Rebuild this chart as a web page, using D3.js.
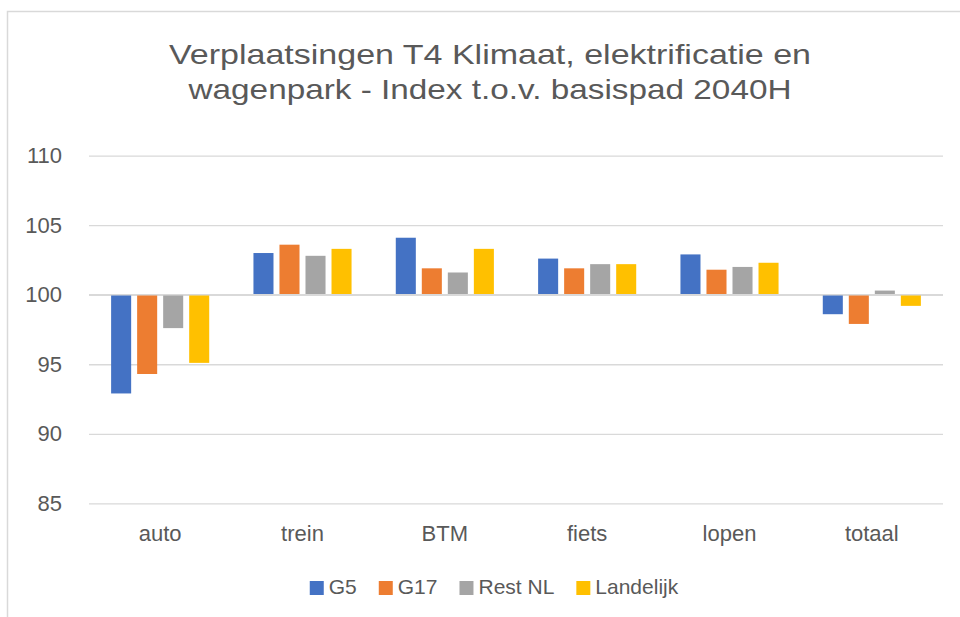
<html>
  <script src="https://d3js.org/d3.v7.min.js"></script>
  <style>
    body,
    html {
      margin: 0;
      padding: 0;
      background: white;
    }
    text {
      font-family: "Liberation Sans", Arial, sans-serif;
      fill: #595959;
    }
  </style>
  <body>
    <svg id="chart" width="960" height="617"></svg>
    <script>
      const titleLines = [
        "Verplaatsingen T4 Klimaat, elektrificatie en",
        "wagenpark - Index t.o.v. basispad 2040H",
      ];
      const categories = ["auto", "trein", "BTM", "fiets", "lopen", "totaal"];
      const seriesNames = ["G5", "G17", "Rest NL", "Landelijk"];
      const g5 = [92.9, 103.0, 104.1, 102.6, 102.9, 98.6];
      const g17 = [94.3, 103.6, 101.9, 101.9, 101.8, 97.9];
      const restNL = [97.6, 102.8, 101.6, 102.2, 102.0, 100.3];
      const landelijk = [95.1, 103.3, 103.3, 102.2, 102.3, 99.2];
      const yTicks = [85, 90, 95, 100, 105, 110];
      const colors = ["#4472C4", "#ED7D31", "#A5A5A5", "#FFC000"];

      const seriesValues = [g5, g17, restNL, landelijk];
      const baseline = 100;

      const svg = d3.select("#chart");

      // chart frame (right edge is cut off in the picture)
      svg
        .append("path")
        .attr("d", "M7.5,617 V11.5 H960")
        .attr("fill", "none")
        .attr("stroke", "#D9D9D9")
        .attr("stroke-width", 1.5);

      // title
      const titleWidths = [642, 603];
      svg
        .selectAll(".title")
        .data(titleLines)
        .enter()
        .append("text")
        .attr("class", "title")
        .attr("x", 490)
        .attr("y", (d, i) => 64 + i * 35)
        .attr("text-anchor", "middle")
        .attr("textLength", (d, i) => titleWidths[i])
        .attr("lengthAdjust", "spacingAndGlyphs")
        .style("font-size", "28px")
        .text((d) => d);

      const x0 = d3.scaleBand().domain(categories).range([89, 943]);
      const x1 = d3
        .scaleBand()
        .domain(seriesNames)
        .range([0, x0.bandwidth()])
        .paddingInner(0.23)
        .paddingOuter(0.85);
      const y = d3.scaleLinear().domain([85, 110]).range([503.3, 155.7]);

      // gridlines + y labels
      const yAxis = svg
        .append("g")
        .attr("transform", "translate(89,0)")
        .call(
          d3
            .axisLeft(y)
            .tickValues(yTicks)
            .tickSize(-(943 - 89))
            .tickPadding(27)
        );
      yAxis.select(".domain").remove();
      yAxis
        .selectAll("line")
        .attr("stroke", "#D9D9D9")
        .attr("stroke-width", 1.3);
      yAxis
        .selectAll("text")
        .attr("fill", "#595959")
        .style("font-size", "22px")
        .style("font-family", "'Liberation Sans', Arial, sans-serif");

      // bars
      const groups = svg
        .append("g")
        .selectAll("g")
        .data(categories)
        .enter()
        .append("g")
        .attr("transform", (d) => `translate(${x0(d)},0)`);

      groups
        .selectAll("rect")
        .data((d, ci) =>
          seriesNames.map((s, si) => ({
            series: s,
            value: seriesValues[si][ci],
            color: colors[si],
          }))
        )
        .enter()
        .append("rect")
        .attr("x", (d) => x1(d.series))
        .attr("width", x1.bandwidth())
        .attr("y", (d) => y(Math.max(d.value, baseline)))
        .attr("height", (d) => Math.abs(y(d.value) - y(baseline)))
        .attr("fill", (d) => d.color);

      // category axis line at 100
      svg
        .append("line")
        .attr("x1", 89)
        .attr("x2", 943)
        .attr("y1", y(baseline))
        .attr("y2", y(baseline))
        .attr("stroke", "#D9D9D9")
        .attr("stroke-width", 1.5);

      // category labels
      svg
        .selectAll(".cat")
        .data(categories)
        .enter()
        .append("text")
        .attr("class", "cat")
        .attr("x", (d) => x0(d) + x0.bandwidth() / 2)
        .attr("y", 541)
        .attr("text-anchor", "middle")
        .style("font-size", "22px")
        .text((d) => d);

      // legend
      const legend = svg.append("g");
      let cursor = 0;
      seriesNames.forEach((name, i) => {
        const item = legend.append("g").attr("transform", `translate(${cursor},0)`);
        item
          .append("rect")
          .attr("x", 0)
          .attr("y", 581)
          .attr("width", 14)
          .attr("height", 14)
          .attr("fill", colors[i]);
        const t = item
          .append("text")
          .attr("x", 19)
          .attr("y", 594)
          .style("font-size", "21px")
          .text(name);
        cursor += 19 + t.node().getComputedTextLength() + 22;
      });
      const legendWidth = cursor - 22;
      legend.attr("transform", `translate(${494 - legendWidth / 2},0)`);
    </script>
  </body>
</html>
